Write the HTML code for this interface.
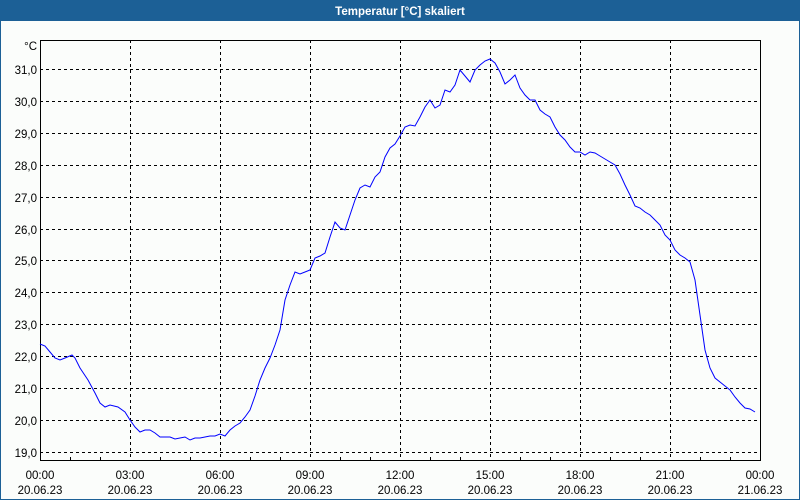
<!DOCTYPE html>
<html><head><meta charset="utf-8"><style>
html,body{margin:0;padding:0;background:#fff}
svg{display:block}
text{font-family:"Liberation Sans",sans-serif;font-size:11.5px;fill:#000}
</style></head><body>
<svg width="800" height="500" viewBox="0 0 800 500" xmlns="http://www.w3.org/2000/svg">
<rect x="0" y="0" width="800" height="500" fill="#1c6096"/>
<rect x="1" y="21" width="798" height="478" fill="#fbfdfb"/>
<text x="400" y="15" text-anchor="middle" style="fill:#fff;font-weight:bold;font-size:11.5px">Temperatur [°C] skaliert</text>
<g stroke="#000" stroke-width="1" stroke-dasharray="3,3" shape-rendering="crispEdges">
<line x1="40" x2="760" y1="69.5" y2="69.5"/><line x1="40" x2="760" y1="101.5" y2="101.5"/>
<line x1="40" x2="760" y1="133.5" y2="133.5"/><line x1="40" x2="760" y1="165.5" y2="165.5"/>
<line x1="40" x2="760" y1="197.5" y2="197.5"/><line x1="40" x2="760" y1="229.5" y2="229.5"/>
<line x1="40" x2="760" y1="260.5" y2="260.5"/><line x1="40" x2="760" y1="292.5" y2="292.5"/>
<line x1="40" x2="760" y1="324.5" y2="324.5"/><line x1="40" x2="760" y1="356.5" y2="356.5"/>
<line x1="40" x2="760" y1="388.5" y2="388.5"/><line x1="40" x2="760" y1="420.5" y2="420.5"/>
<line x1="40" x2="760" y1="452.5" y2="452.5"/>
<line x1="130.5" x2="130.5" y1="40" y2="460"/><line x1="220.5" x2="220.5" y1="40" y2="460"/>
<line x1="310.5" x2="310.5" y1="40" y2="460"/><line x1="400.5" x2="400.5" y1="40" y2="460"/>
<line x1="490.5" x2="490.5" y1="40" y2="460"/><line x1="580.5" x2="580.5" y1="40" y2="460"/>
<line x1="670.5" x2="670.5" y1="40" y2="460"/>
</g>
<g stroke="#000" shape-rendering="crispEdges">
<line x1="70.5" x2="70.5" y1="457" y2="460"/><line x1="100.5" x2="100.5" y1="457" y2="460"/>
<line x1="160.5" x2="160.5" y1="457" y2="460"/><line x1="190.5" x2="190.5" y1="457" y2="460"/>
<line x1="250.5" x2="250.5" y1="457" y2="460"/><line x1="280.5" x2="280.5" y1="457" y2="460"/>
<line x1="340.5" x2="340.5" y1="457" y2="460"/><line x1="370.5" x2="370.5" y1="457" y2="460"/>
<line x1="430.5" x2="430.5" y1="457" y2="460"/><line x1="460.5" x2="460.5" y1="457" y2="460"/>
<line x1="520.5" x2="520.5" y1="457" y2="460"/><line x1="550.5" x2="550.5" y1="457" y2="460"/>
<line x1="610.5" x2="610.5" y1="457" y2="460"/><line x1="640.5" x2="640.5" y1="457" y2="460"/>
<line x1="700.5" x2="700.5" y1="457" y2="460"/><line x1="730.5" x2="730.5" y1="457" y2="460"/>
<rect x="40.5" y="40.5" width="720" height="420" fill="none"/>
</g>
<polyline fill="none" stroke="#0000ff" stroke-width="1" points="40,344 45,346 50,352 55,358 60,360 65,358 72,355 75,358 80,368 88,380 95,393 100,403 105,407 110,405 118,407 125,412 130,420 135,427 140,432 145,430 150,430 155,433 160,437 170,437 175,439 180,438 185,437 190,440 195,438 200,438 205,437 210,436 215,436 220,434 225,436 230,430 235,426 240,423 245,417 250,410 255,396 260,380 265,368 270,358 275,345 280,330 285,300 290,285 295,272 300,274 305,272 310,270 315,258 320,256 325,253 330,237 335,222 340,228 345,230 350,215 355,200 360,188 365,185 370,187 375,177 380,172 385,157 390,148 395,144 400,136 405,127 410,125 415,126 420,117 425,107 430,100 435,108 440,105 445,90 450,92 455,85 460,70 465,76 470,82 475,70 480,65 485,61 490,59 495,63 500,72 505,84 510,80 515,75 520,88 525,95 530,100 535,100 540,110 545,114 550,117 555,127 560,135 565,140 570,147 575,152 580,152 585,155 590,152 595,153 600,156 610,162 615,165 620,174 625,185 630,195 635,206 640,208 645,212 650,215 655,220 660,225 665,235 670,240 675,250 680,255 685,258 690,262 695,280 700,315 705,350 710,368 715,378 720,382 725,386 730,390 735,397 740,403 745,408 750,409 755,412"/>
<g text-anchor="end">
<text x="37" y="50">°C</text>
<text x="37" y="74">31,0</text><text x="37" y="106">30,0</text><text x="37" y="138">29,0</text>
<text x="37" y="170">28,0</text><text x="37" y="202">27,0</text><text x="37" y="234">26,0</text>
<text x="37" y="265">25,0</text><text x="37" y="297">24,0</text><text x="37" y="329">23,0</text>
<text x="37" y="361">22,0</text><text x="37" y="393">21,0</text><text x="37" y="425">20,0</text>
<text x="37" y="457">19,0</text>
</g>
<g text-anchor="middle">
<text x="40" y="479">00:00</text><text x="40" y="494">20.06.23</text>
<text x="130" y="479">03:00</text><text x="130" y="494">20.06.23</text>
<text x="220" y="479">06:00</text><text x="220" y="494">20.06.23</text>
<text x="310" y="479">09:00</text><text x="310" y="494">20.06.23</text>
<text x="400" y="479">12:00</text><text x="400" y="494">20.06.23</text>
<text x="490" y="479">15:00</text><text x="490" y="494">20.06.23</text>
<text x="580" y="479">18:00</text><text x="580" y="494">20.06.23</text>
<text x="670" y="479">21:00</text><text x="670" y="494">20.06.23</text>
<text x="760" y="479">00:00</text><text x="760" y="494">21.06.23</text>
</g>
</svg>
</body></html>
